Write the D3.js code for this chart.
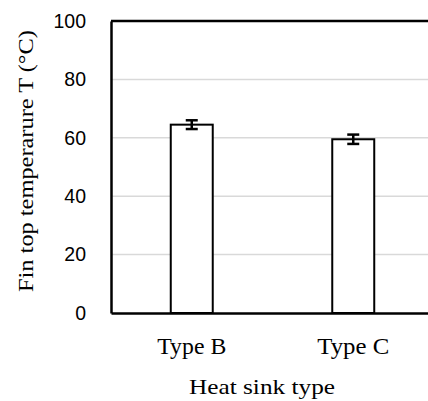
<!DOCTYPE html>
<html>
<head>
<meta charset="utf-8">
<script src="https://cdn.jsdelivr.net/npm/d3@7"></script>
<style>
  body { margin: 0; background: #fff; }
  .tick-num { font-family: "Liberation Sans", Arial, sans-serif; font-size: 19.5px; fill: #000; }
  .serif { font-family: "Liberation Serif", "Times New Roman", serif; fill: #000; }
</style>
</head>
<body>
<div id="chart"></div>
<script>
// Data
const categories = ["Type B", "Type C"];
const temps = [64.5, 59.5];
const errs = [1.5, 1.6];
const yTicks = [0, 20, 40, 60, 80, 100];
const catLabelWidths = [69, 72];   // label lengths to mimic the wider Palatino face

const width = 428, height = 401;
const margin = {top: 21, right: -6, bottom: 88, left: 111};

const svg = d3.select("#chart")
  .append("svg")
    .attr("width", width)
    .attr("height", height);

const x = d3.scaleBand()
    .domain(categories)
    .range([margin.left, width - margin.right])
    .paddingInner(0.74)
    .paddingOuter(0.37);

const y = d3.scaleLinear()
    .domain([0, 100])
    .range([height - margin.bottom, margin.top]);

// Gridlines
svg.append("g")
  .selectAll("line")
  .data(yTicks.filter(d => d > 0 && d < 100))
  .enter()
  .append("line")
    .attr("x1", margin.left)
    .attr("x2", width)
    .attr("y1", d => y(d))
    .attr("y2", d => y(d))
    .attr("stroke", "#d9d9d9")
    .attr("stroke-width", 1.5);

// Top border
svg.append("line")
  .attr("x1", margin.left).attr("x2", width)
  .attr("y1", y(100)).attr("y2", y(100))
  .attr("stroke", "#000").attr("stroke-width", 2.5);

// Bars
const data = categories.map((c, i) => ({cat: c, v: temps[i], e: errs[i]}));

svg.selectAll(".bar")
  .data(data)
  .enter()
  .append("rect")
    .attr("class", "bar")
    .attr("x", d => x(d.cat))
    .attr("y", d => y(d.v))
    .attr("width", x.bandwidth())
    .attr("height", d => y(0) - y(d.v))
    .attr("fill", "#fff")
    .attr("stroke", "#000")
    .attr("stroke-width", 2);

// Error bars
const eb = svg.selectAll(".err")
  .data(data)
  .enter()
  .append("g")
    .attr("stroke", "#000")
    .attr("stroke-width", 2.5);
eb.append("line")
  .attr("x1", d => x(d.cat) + x.bandwidth() / 2)
  .attr("x2", d => x(d.cat) + x.bandwidth() / 2)
  .attr("y1", d => y(d.v + d.e))
  .attr("y2", d => y(d.v - d.e));
eb.append("line")
  .attr("x1", d => x(d.cat) + x.bandwidth() / 2 - 6)
  .attr("x2", d => x(d.cat) + x.bandwidth() / 2 + 6)
  .attr("y1", d => y(d.v + d.e))
  .attr("y2", d => y(d.v + d.e));
eb.append("line")
  .attr("x1", d => x(d.cat) + x.bandwidth() / 2 - 6)
  .attr("x2", d => x(d.cat) + x.bandwidth() / 2 + 6)
  .attr("y1", d => y(d.v - d.e))
  .attr("y2", d => y(d.v - d.e));

// Y axis
const yAxis = svg.append("g")
  .attr("transform", `translate(${margin.left},0)`)
  .call(d3.axisLeft(y).tickValues(yTicks).tickSize(0).tickPadding(25));
yAxis.select(".domain").attr("stroke", "#000").attr("stroke-width", 2.5);
yAxis.selectAll("text").attr("class", "tick-num").attr("font-size", null).attr("font-family", null);

// X axis
const xAxis = svg.append("g")
  .attr("transform", `translate(0,${y(0)})`)
  .call(d3.axisBottom(x).tickSize(0).tickPadding(25));
xAxis.select(".domain").attr("stroke", "#000").attr("stroke-width", 2.5);
xAxis.selectAll("text")
  .attr("class", "serif")
  .attr("font-size", null).attr("font-family", null)
  .attr("textLength", (d, i) => catLabelWidths[i])
  .attr("lengthAdjust", "spacingAndGlyphs")
  .style("font-size", "22.5px");

// Axis titles
svg.append("text")
  .attr("class", "serif")
  .attr("x", 262)
  .attr("y", 394)
  .attr("text-anchor", "middle")
  .attr("textLength", 146)
  .attr("lengthAdjust", "spacingAndGlyphs")
  .style("font-size", "22px")
  .text("Heat sink type");

svg.append("text")
  .attr("class", "serif")
  .attr("transform", "translate(33,161) rotate(-90)")
  .attr("text-anchor", "middle")
  .attr("textLength", 262)
  .attr("lengthAdjust", "spacingAndGlyphs")
  .style("font-size", "21px")
  .text("Fin top temperarure T (°C)");
</script>
</body>
</html>
